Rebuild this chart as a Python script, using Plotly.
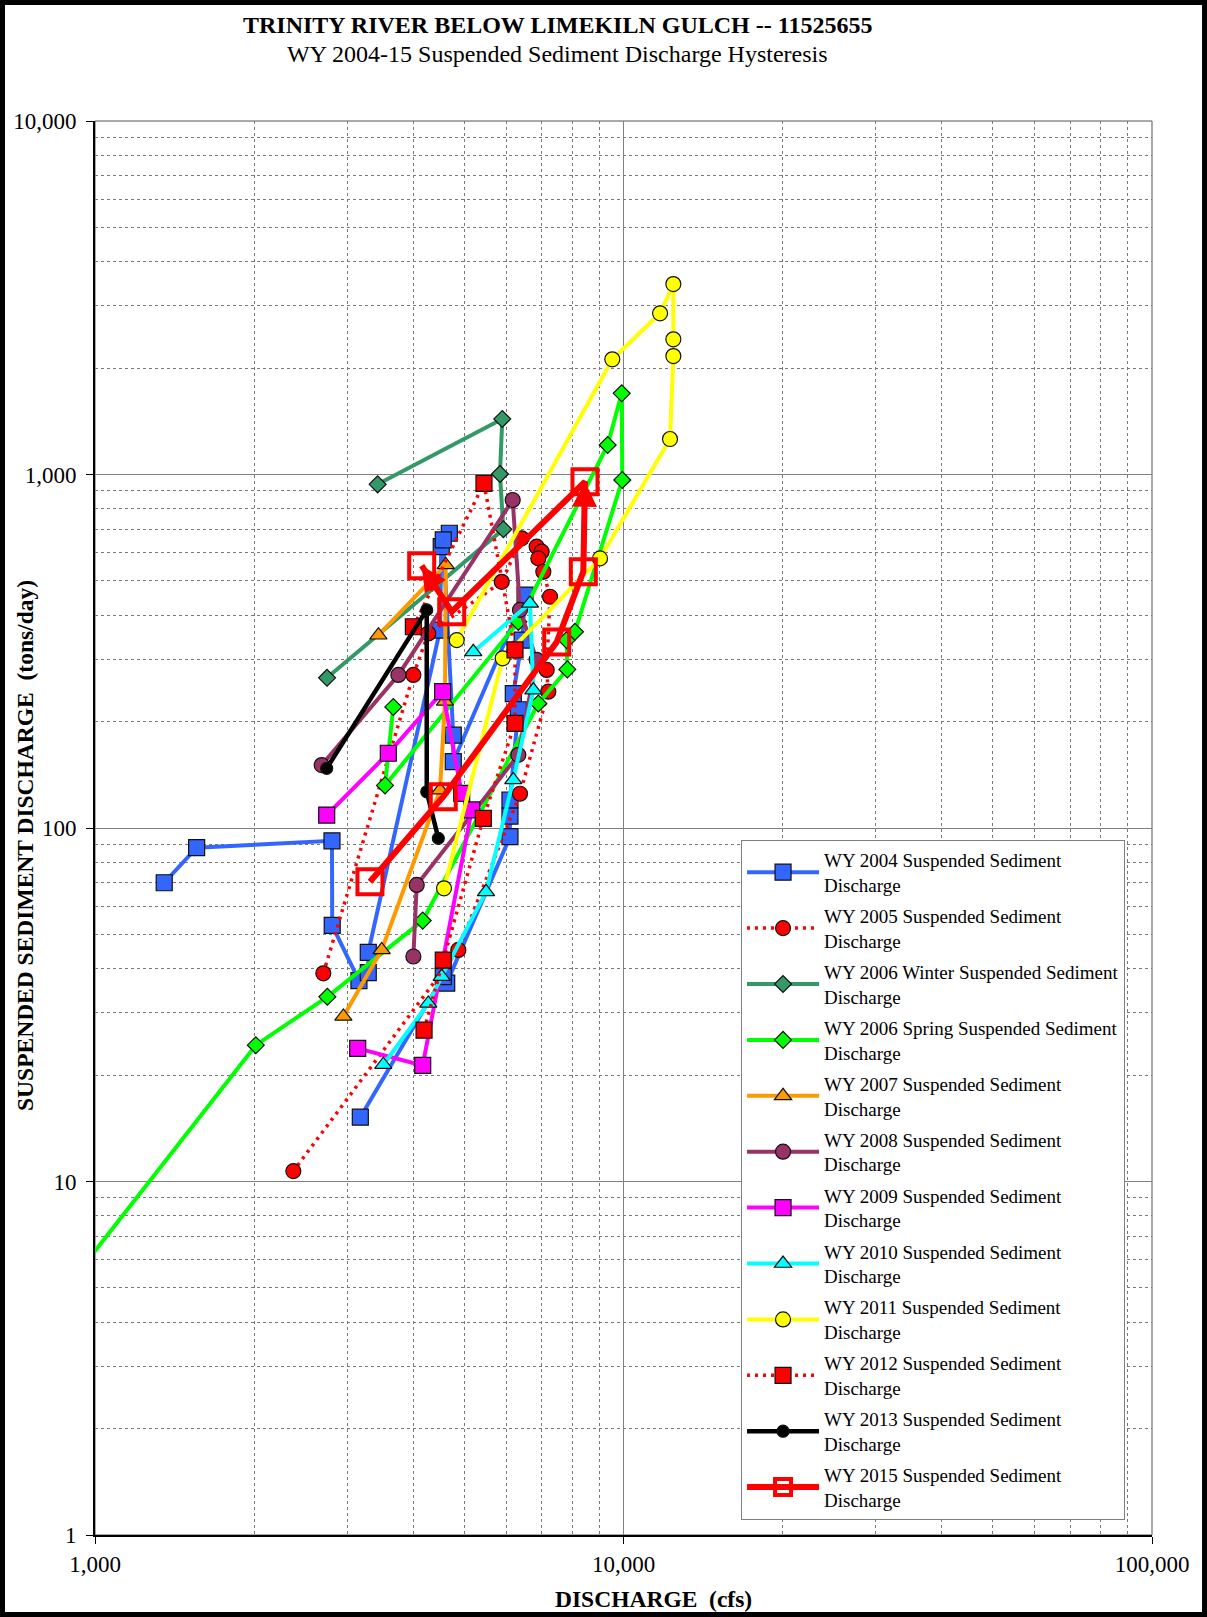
import math
import plotly.graph_objects as go

# ---- Discharge (cfs) and suspended sediment discharge (tons/day) by water year ----
q_2004 = [1352, 1557, 2808, 2811, 3158, 3289, 3289, 4496, 4520, 4682, 4560, 4763, 4763,
          6512, 6430, 6187, 6324, 6098, 6098, 6098, 4629, 4560, 3177]
s_2004 = [70, 88, 92, 53, 37, 39, 44.5, 363, 625, 682, 653, 183, 154,
          456, 340, 240, 216, 120, 108, 94.5, 36.4, 38, 15.2]

q_2005 = [2704, 4003, 4272, 5883, 6417, 6850, 7000, 6900, 7052, 7261, 7156, 7206, 6370, 4869, 2373]
s_2005 = [38.8, 271, 355, 497, 660, 625, 605, 579, 531, 451, 280, 243, 125, 45.2, 10.7]

q_2006w = [3426, 5897, 5838, 5924, 2748]
s_2006w = [938, 1436, 1003, 700, 266]

q_2006s = [900, 2015, 2752, 4169, 6900, 7830, 7806, 8094, 9947, 9922, 9333, 6324, 3538, 3668]
s_2006s = [5.2, 24.3, 33.3, 54.7, 225, 281, 340, 359, 965, 1697, 1212, 383, 132, 220]

q_2007 = [2951, 3487, 4496, 4594, 4609, 3438]
s_2007 = [29.3, 45.2, 128, 228, 555, 351]

q_2008 = [2685, 3750, 6171, 6370, 6850, 6324, 4062, 4003]
s_2008 = [150.7, 271, 847, 414, 299, 161, 69, 43.3]

q_2009 = [2744, 3589, 4548, 4941, 5163, 4169, 3141]
s_2009 = [108.8, 162.7, 243, 125.3, 112.5, 21.3, 23.8]

q_2010 = [3512, 4272, 4529, 5494, 6187, 6752, 6653, 5197]
s_2010 = [21.4, 31.9, 38, 66, 136.8, 245.6, 432, 315]

q_2011 = [4835, 9524, 11728, 12426, 12426, 12426, 12246, 9027, 5907, 4575]
s_2011 = [340, 2118, 2858, 3458, 2412, 2163, 1260, 579, 302, 67.5]

q_2012 = [4194, 4560, 5430, 6233, 6233, 5445, 4003]
s_2012 = [26.8, 42.3, 106.5, 197.8, 319, 944, 371]

q_2013 = [2744, 4243, 4243, 4463]
s_2013 = [147.5, 414, 126.6, 93.5]

q_2015 = [3313, 4560, 7475, 8394, 8455, 4731, 4151]
s_2015 = [70.5, 122.6, 336, 531, 954, 409, 552]
# arrow heads on the WY 2015 path: (from index, to index)
arrows_2015 = [(3, 4), (5, 6)]

x_tick_vals = [1000, 10000, 100000]
x_tick_text = ["1,000", "10,000", "100,000"]
y_tick_vals = [1, 10, 100, 1000, 10000]
y_tick_text = ["1", "10", "100", "1,000", "10,000"]

FONT = "Liberation Serif"

series = [
    ("WY 2004 Suspended Sediment<br>Discharge", q_2004, s_2004, "#3366FF", "solid", 4, "square", 16),
    ("WY 2005 Suspended Sediment<br>Discharge", q_2005, s_2005, "#FF0000", "3px,5px", 3.5, "circle", 15),
    ("WY 2006 Winter Suspended Sediment<br>Discharge", q_2006w, s_2006w, "#339966", "solid", 4, "diamond", 13),
    ("WY 2006 Spring Suspended Sediment<br>Discharge", q_2006s, s_2006s, "#00FF00", "solid", 4, "diamond", 13),
    ("WY 2007 Suspended Sediment<br>Discharge", q_2007, s_2007, "#FF9900", "solid", 4, "triangle-up", 15),
    ("WY 2008 Suspended Sediment<br>Discharge", q_2008, s_2008, "#993366", "solid", 4, "circle", 15),
    ("WY 2009 Suspended Sediment<br>Discharge", q_2009, s_2009, "#FF00FF", "solid", 4, "square", 16),
    ("WY 2010 Suspended Sediment<br>Discharge", q_2010, s_2010, "#00FFFF", "solid", 4, "triangle-up", 15),
    ("WY 2011 Suspended Sediment<br>Discharge", q_2011, s_2011, "#FFFF00", "solid", 4, "circle", 15),
    ("WY 2012 Suspended Sediment<br>Discharge", q_2012, s_2012, "#FF0000", "3px,5px", 3.5, "square", 16),
    ("WY 2013 Suspended Sediment<br>Discharge", q_2013, s_2013, "#000000", "solid", 4.5, "circle", 12),
]

fig = go.Figure()
for i, (name, q, s, color, dash, lw, sym, size) in enumerate(series):
    fig.add_trace(go.Scatter(
        x=q, y=s, name=name, mode="lines+markers", legendgroup=f"g{i}",
        line=dict(color=color, width=lw, dash=dash),
        marker=dict(symbol=sym, size=size, color=color, line=dict(color="#111111", width=1.2)),
    ))

fig.add_trace(go.Scatter(
    x=q_2015, y=s_2015, name="WY 2015 Suspended Sediment<br>Discharge", mode="lines+markers",
    legendgroup="g15",
    line=dict(color="#FF0000", width=6),
    marker=dict(symbol="square-open", size=25, color="#FF0000", line=dict(color="#FF0000", width=4)),
))

annotations = []
for a, b in arrows_2015:
    annotations.append(dict(
        x=math.log10(q_2015[b]), y=math.log10(s_2015[b]),
        ax=math.log10(q_2015[a]), ay=math.log10(s_2015[a]),
        xref="x", yref="y", axref="x", ayref="y", text="",
        showarrow=True, arrowhead=2, arrowsize=1.0, arrowwidth=5, arrowcolor="#FF0000", standoff=0,
    ))

annotations += [
    dict(text="<b>TRINITY RIVER BELOW LIMEKILN GULCH -- 11525655</b>", x=0.438, y=1.0679,
         xref="paper", yref="paper", xanchor="center", yanchor="middle", showarrow=False,
         font=dict(family=FONT, size=24, color="black")),
    dict(text="WY 2004-15 Suspended Sediment Discharge Hysteresis", x=0.438, y=1.0474,
         xref="paper", yref="paper", xanchor="center", yanchor="middle", showarrow=False,
         font=dict(family=FONT, size=24, color="black")),
    dict(text="<b>DISCHARGE  (cfs)</b>", x=0.528, y=-0.0453, xref="paper", yref="paper",
         xanchor="center", yanchor="middle", showarrow=False,
         font=dict(family=FONT, size=23.5, color="black")),
    dict(text="<b>SUSPENDED SEDIMENT DISCHARGE  (tons/day)</b>", x=-0.0662, y=0.4873,
         xref="paper", yref="paper", xanchor="center", yanchor="middle", showarrow=False, textangle=-90,
         font=dict(family=FONT, size=23.5, color="black")),
]

# minor grid positions 2..9 within each decade
minor_x = [m * 10 ** d for d in range(3, 5) for m in range(2, 10)]
minor_y = [m * 10 ** d for d in range(0, 4) for m in range(2, 10)]

axis_common = dict(
    type="log", showline=True, linecolor="black", linewidth=2, mirror=False,
    ticks="outside", ticklen=7, tickcolor="black", tickwidth=1,
    showgrid=True, gridcolor="#808080", gridwidth=1,
    tickfont=dict(family=FONT, size=23, color="black"),
)

fig.update_xaxes(
    range=[3, 5], tickvals=x_tick_vals, ticktext=x_tick_text, ticklabelstandoff=0,
    minor=dict(tickvals=minor_x, showgrid=True, gridcolor="#7a7a7a", griddash="dot", gridwidth=1, ticks=""),
    **axis_common,
)
fig.update_yaxes(
    range=[0, 4], tickvals=y_tick_vals, ticktext=y_tick_text, ticklabelstandoff=5,
    minor=dict(tickvals=minor_y, showgrid=True, gridcolor="#7a7a7a", griddash="dot", gridwidth=1, ticks=""),
    **axis_common,
)

shapes = [
    # plot-area frame (top/right edges)
    dict(type="rect", xref="paper", yref="paper", x0=0, x1=1, y0=0, y1=1,
         line=dict(color="#555555", width=1), layer="below"),
    # outer chart border
    dict(type="rect", xref="paper", yref="paper", x0=-0.0875, x1=1.0497, y0=-0.0562, y1=1.0838,
         line=dict(color="black", width=5)),
]

fig.update_layout(
    width=1207, height=1617,
    margin=dict(l=95, r=55, t=121, b=82),
    paper_bgcolor="white", plot_bgcolor="white",
    annotations=annotations, shapes=shapes,
    showlegend=True,
    legend=dict(
        x=0.6112, y=0.4915, xanchor="left", yanchor="top",
        bgcolor="white", bordercolor="#7f7f7f", borderwidth=1,
        font=dict(family=FONT, size=19, color="black"),
        tracegroupgap=3.5, itemwidth=72,
    ),
)

fig.write_html("out.html")
